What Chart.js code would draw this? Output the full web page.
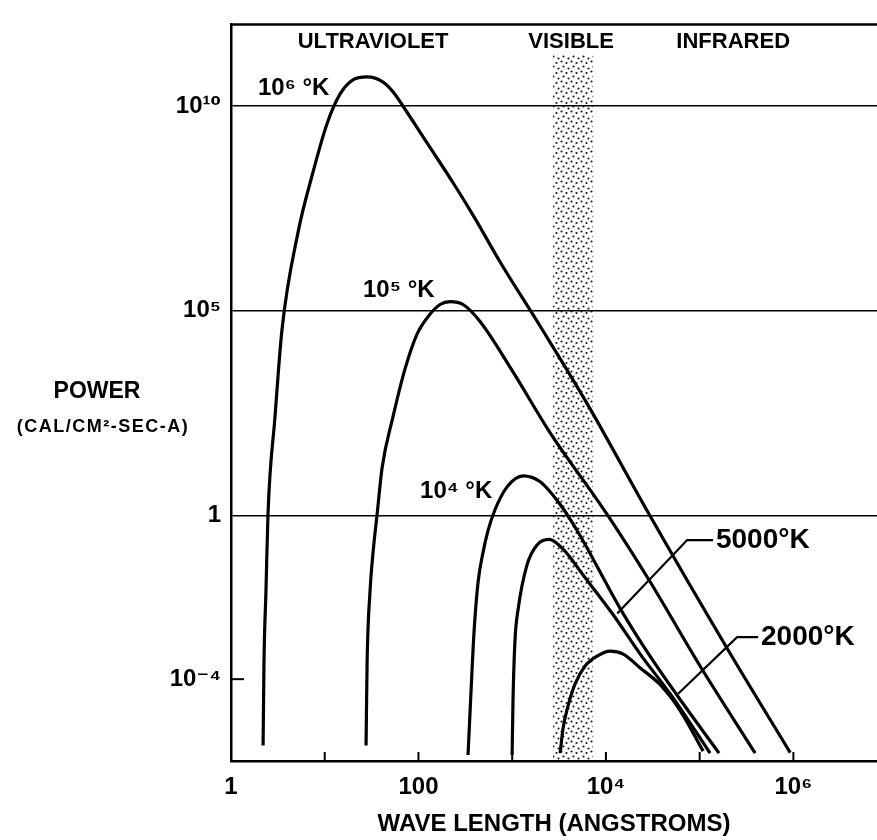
<!DOCTYPE html>
<html>
<head>
<meta charset="utf-8">
<title>Blackbody power vs wave length</title>
<script src="https://cdn.jsdelivr.net/npm/chart.js@4/dist/chart.umd.min.js"></script>
<style>
    html, body { margin: 0; padding: 0; background: #fff; }
    #wrap { position: relative; width: 877px; height: 840px; }
</style>
</head>
<body>
<div id="wrap"><canvas id="spectrumChart"></canvas></div>
<script>
// wave length in angstroms, power in cal/cm2-sec-A
const waveT1e6 = [2.2, 2.25, 2.36, 2.48, 2.95, 3.5, 5.19, 7.32, 10.6, 14.6, 20.0, 28.3, 41.9, 54, 68.5, 124, 234, 402, 743, 1990, 6300, 28200, 196000, 925000];
const powerT1e6 = [2.4e-6, 2.8e-4, 0.014, 1.06, 263, 3.5e4, 8.3e6, 2.0e8, 3.8e9, 2.0e10, 4.4e10, 5.2e10, 3.9e10, 2.2e10, 1.0e10, 1.25e9, 1.35e8, 1.8e7, 1.56e6, 4.2e4, 540, 1.18, 5.7e-4, 1.6e-6];

const waveT1e5 = [27.6, 28.3, 30.4, 32.8, 36.2, 40.9, 53.6, 71.9, 96.6, 127, 170, 217, 299, 454, 1020, 2480, 10300, 29600, 101000, 391000];
const powerT1e5 = [2.4e-6, 2.35e-4, 0.0137, 0.127, 1.06, 14.5, 263, 3810, 2.7e4, 7.3e4, 1.43e5, 1.68e5, 1.43e5, 5.5e4, 3220, 114, 1.06, 0.024, 2.1e-4, 1.56e-6];

const waveT1e4 = [338, 364, 392, 433, 489, 553, 657, 882, 1310, 1990, 3250, 5050, 14200, 30400, 66700, 161000];
const powerT1e4 = [1.4e-6, 5.2e-5, 1.48e-3, 0.024, 0.127, 0.434, 1.4, 5.0, 9.3, 6.65, 1.85, 0.39, 5.3e-3, 3.3e-4, 2.5e-5, 1.56e-6];

const waveT5000 = [998, 1020, 1070, 1160, 1440, 1840, 2480, 3490, 5710, 11900, 23200, 52100, 129000];
const powerT5000 = [1.4e-6, 3.0e-5, 8.5e-4, 5.3e-3, 0.062, 0.19, 0.26, 0.15, 0.035, 3.8e-3, 4.1e-4, 3.5e-5, 1.56e-6];

const waveT2000 = [3250, 3490, 3950, 4690, 6000, 8050, 11100, 15300, 23200, 37900, 61900, 109000];
const powerT2000 = [1.56e-6, 6.3e-6, 2.26e-5, 7.7e-5, 2.1e-4, 3.66e-4, 4.84e-4, 4.1e-4, 1.88e-4, 7.3e-5, 1.71e-5, 1.74e-6];

// leader lines from the 5000 and 2000 labels
const leader5000Wave = [139000, 73600, 13200];
const leader5000Power = [0.25, 0.25, 4.0e-3];
const leader2000Wave = [421000, 251000, 59000];
const leader2000Power = [1.06e-3, 1.06e-3, 4.4e-5];

const curveLabels = ["10\u2076 \u00b0K", "10\u2075 \u00b0K", "10\u2074 \u00b0K", "5000\u00b0K", "2000\u00b0K"];
const curveLabelWave = [1.94, 25.6, 104, 142000, 430000];
const curveLabelPower = [2.7e10, 3.1e5, 3.8, 0.25, 1.06e-3];

const regionLabels = ["ULTRAVIOLET", "VISIBLE", "INFRARED"];
const regionLabelWave = [32.8, 4250, 228000];
const regionLabelPower = 3.7e11;

const visibleBand = [2730, 7300];
const visibleBandTop = 1.8e11;

const xTickValues = [1, 10, 100, 1e3, 1e4, 1e5, 1e6];
const xTickLabels = ["1", "", "100", "", "10\u2074", "", "10\u2076"];
const yTickValues = [1e-4, 1, 1e5, 1e10];
const yTickLabels = ["10\u207b\u2074", "1", "10\u2075", "10\u00b9\u2070"];
const yInnerTicks = [1e-4];

const FONT = "'Liberation Sans', 'DejaVu Sans', sans-serif";
Chart.defaults.font.family = FONT;
Chart.defaults.font.weight = "bold";
Chart.defaults.color = "#000";

function toPoints(wave, power) {
    return wave.map((w, i) => ({ x: w, y: power[i] }));
}

function curve(label, wave, power) {
    return {
        label,
        data: toPoints(wave, power),
        borderColor: "#000",
        borderWidth: 3.2,
        pointRadius: 0,
        fill: false,
        cubicInterpolationMode: "monotone"
    };
}

function leader(label, wave, power) {
    return {
        label,
        data: toPoints(wave, power),
        borderColor: "#000",
        borderWidth: 2.2,
        pointRadius: 0,
        fill: false,
        tension: 0
    };
}

// stipple used for the visible band
function dotPattern(ctx) {
    const tile = document.createElement("canvas");
    tile.width = 10;
    tile.height = 10;
    const t = tile.getContext("2d");
    t.fillStyle = "#111";
    [[1.5, 1.5], [6.5, 3], [3.5, 6.5], [8.5, 8.5]].forEach(([cx, cy]) => {
        t.beginPath();
        t.arc(cx, cy, 1.05, 0, Math.PI * 2);
        t.fill();
    });
    return ctx.createPattern(tile, "repeat");
}

const visibleBandPlugin = {
    id: "visibleBand",
    beforeDraw(chart) {
        const { ctx, chartArea, scales: { x, y } } = chart;
        const left = x.getPixelForValue(visibleBand[0]);
        const right = x.getPixelForValue(visibleBand[1]);
        const top = y.getPixelForValue(visibleBandTop);
        ctx.save();
        ctx.fillStyle = dotPattern(ctx);
        ctx.fillRect(left, top, right - left, chartArea.bottom - top);
        ctx.restore();
    }
};

const annotationPlugin = {
    id: "annotations",
    afterDraw(chart) {
        const { ctx, chartArea, scales: { x, y } } = chart;
        ctx.save();
        ctx.strokeStyle = "#000";
        ctx.fillStyle = "#000";

        // top frame line
        ctx.lineWidth = 2.5;
        ctx.beginPath();
        ctx.moveTo(chartArea.left - 1, chartArea.top);
        ctx.lineTo(chartArea.right, chartArea.top);
        ctx.stroke();

        // inward ticks
        ctx.lineWidth = 2;
        xTickValues.slice(1).forEach((v) => {
            const px = x.getPixelForValue(v);
            ctx.beginPath();
            ctx.moveTo(px, chartArea.bottom);
            ctx.lineTo(px, chartArea.bottom - 9);
            ctx.stroke();
        });
        yInnerTicks.forEach((v) => {
            const py = y.getPixelForValue(v);
            ctx.beginPath();
            ctx.moveTo(chartArea.left, py);
            ctx.lineTo(chartArea.left + 13, py);
            ctx.stroke();
        });

        // region names
        ctx.font = `bold 22px ${FONT}`;
        ctx.textAlign = "center";
        ctx.textBaseline = "middle";
        regionLabels.forEach((text, i) => {
            ctx.fillText(text, x.getPixelForValue(regionLabelWave[i]), y.getPixelForValue(regionLabelPower));
        });

        // temperature labels
        ctx.textAlign = "left";
        curveLabels.forEach((text, i) => {
            ctx.font = i < 3 ? `bold 24px ${FONT}` : `bold 28px ${FONT}`;
            const gap = i < 3 ? 0 : 2;
            ctx.fillText(text, x.getPixelForValue(curveLabelWave[i]) + gap, y.getPixelForValue(curveLabelPower[i]));
        });

        // vertical axis title, written horizontally
        ctx.textAlign = "center";
        ctx.font = `bold 23px ${FONT}`;
        ctx.fillText("POWER", chartArea.left - 134, 392);
        ctx.font = `bold 18px ${FONT}`;
        if ("letterSpacing" in ctx) ctx.letterSpacing = "1.5px";
        ctx.fillText("(CAL/CM\u00b2-SEC-A)", chartArea.left - 128, 427);
        ctx.restore();
    }
};

new Chart(document.getElementById("spectrumChart"), {
    type: "line",
    data: {
        datasets: [
            curve("1000000 K", waveT1e6, powerT1e6),
            curve("100000 K", waveT1e5, powerT1e5),
            curve("10000 K", waveT1e4, powerT1e4),
            curve("5000 K", waveT5000, powerT5000),
            curve("2000 K", waveT2000, powerT2000),
            leader("5000 K label", leader5000Wave, leader5000Power),
            leader("2000 K label", leader2000Wave, leader2000Power)
        ]
    },
    options: {
        responsive: true,
        maintainAspectRatio: false,
        animation: false,
        layout: { padding: { top: 17, right: 0, bottom: 0, left: 0 } },
        plugins: {
            legend: { display: false },
            tooltip: { enabled: false }
        },
        scales: {
            x: {
                type: "logarithmic",
                bounds: "data",
                min: 1,
                max: 7.8e6,
                afterBuildTicks(scale) {
                    scale.ticks = xTickValues.map((value) => ({ value }));
                },
                afterFit(scale) {
                    scale.height = 79;
                },
                grid: { display: false, drawTicks: false },
                border: { display: true, color: "#000", width: 2.5 },
                ticks: {
                    autoSkip: false,
                    maxRotation: 0,
                    padding: 12,
                    font: { size: 24, weight: "bold" },
                    callback: (value, index) => xTickLabels[index]
                },
                title: {
                    display: true,
                    text: "WAVE LENGTH (ANGSTROMS)",
                    font: { size: 24, weight: "bold" },
                    padding: { top: 0, bottom: 1 }
                }
            },
            y: {
                type: "logarithmic",
                bounds: "data",
                min: 1e-6,
                max: 1e12,
                afterBuildTicks(scale) {
                    scale.ticks = yTickValues.map((value) => ({ value }));
                },
                afterFit(scale) {
                    scale.width = 231;
                },
                grid: {
                    drawTicks: false,
                    lineWidth: 1.6,
                    color: (ctx) => (ctx.tick && yInnerTicks.includes(ctx.tick.value) ? "rgba(0,0,0,0)" : "#000")
                },
                border: { display: true, color: "#000", width: 2.5 },
                ticks: {
                    autoSkip: false,
                    padding: 10,
                    font: { size: 24, weight: "bold" },
                    callback: (value, index) => yTickLabels[index]
                }
            }
        }
    },
    plugins: [visibleBandPlugin, annotationPlugin]
});
</script>
</body>
</html>
